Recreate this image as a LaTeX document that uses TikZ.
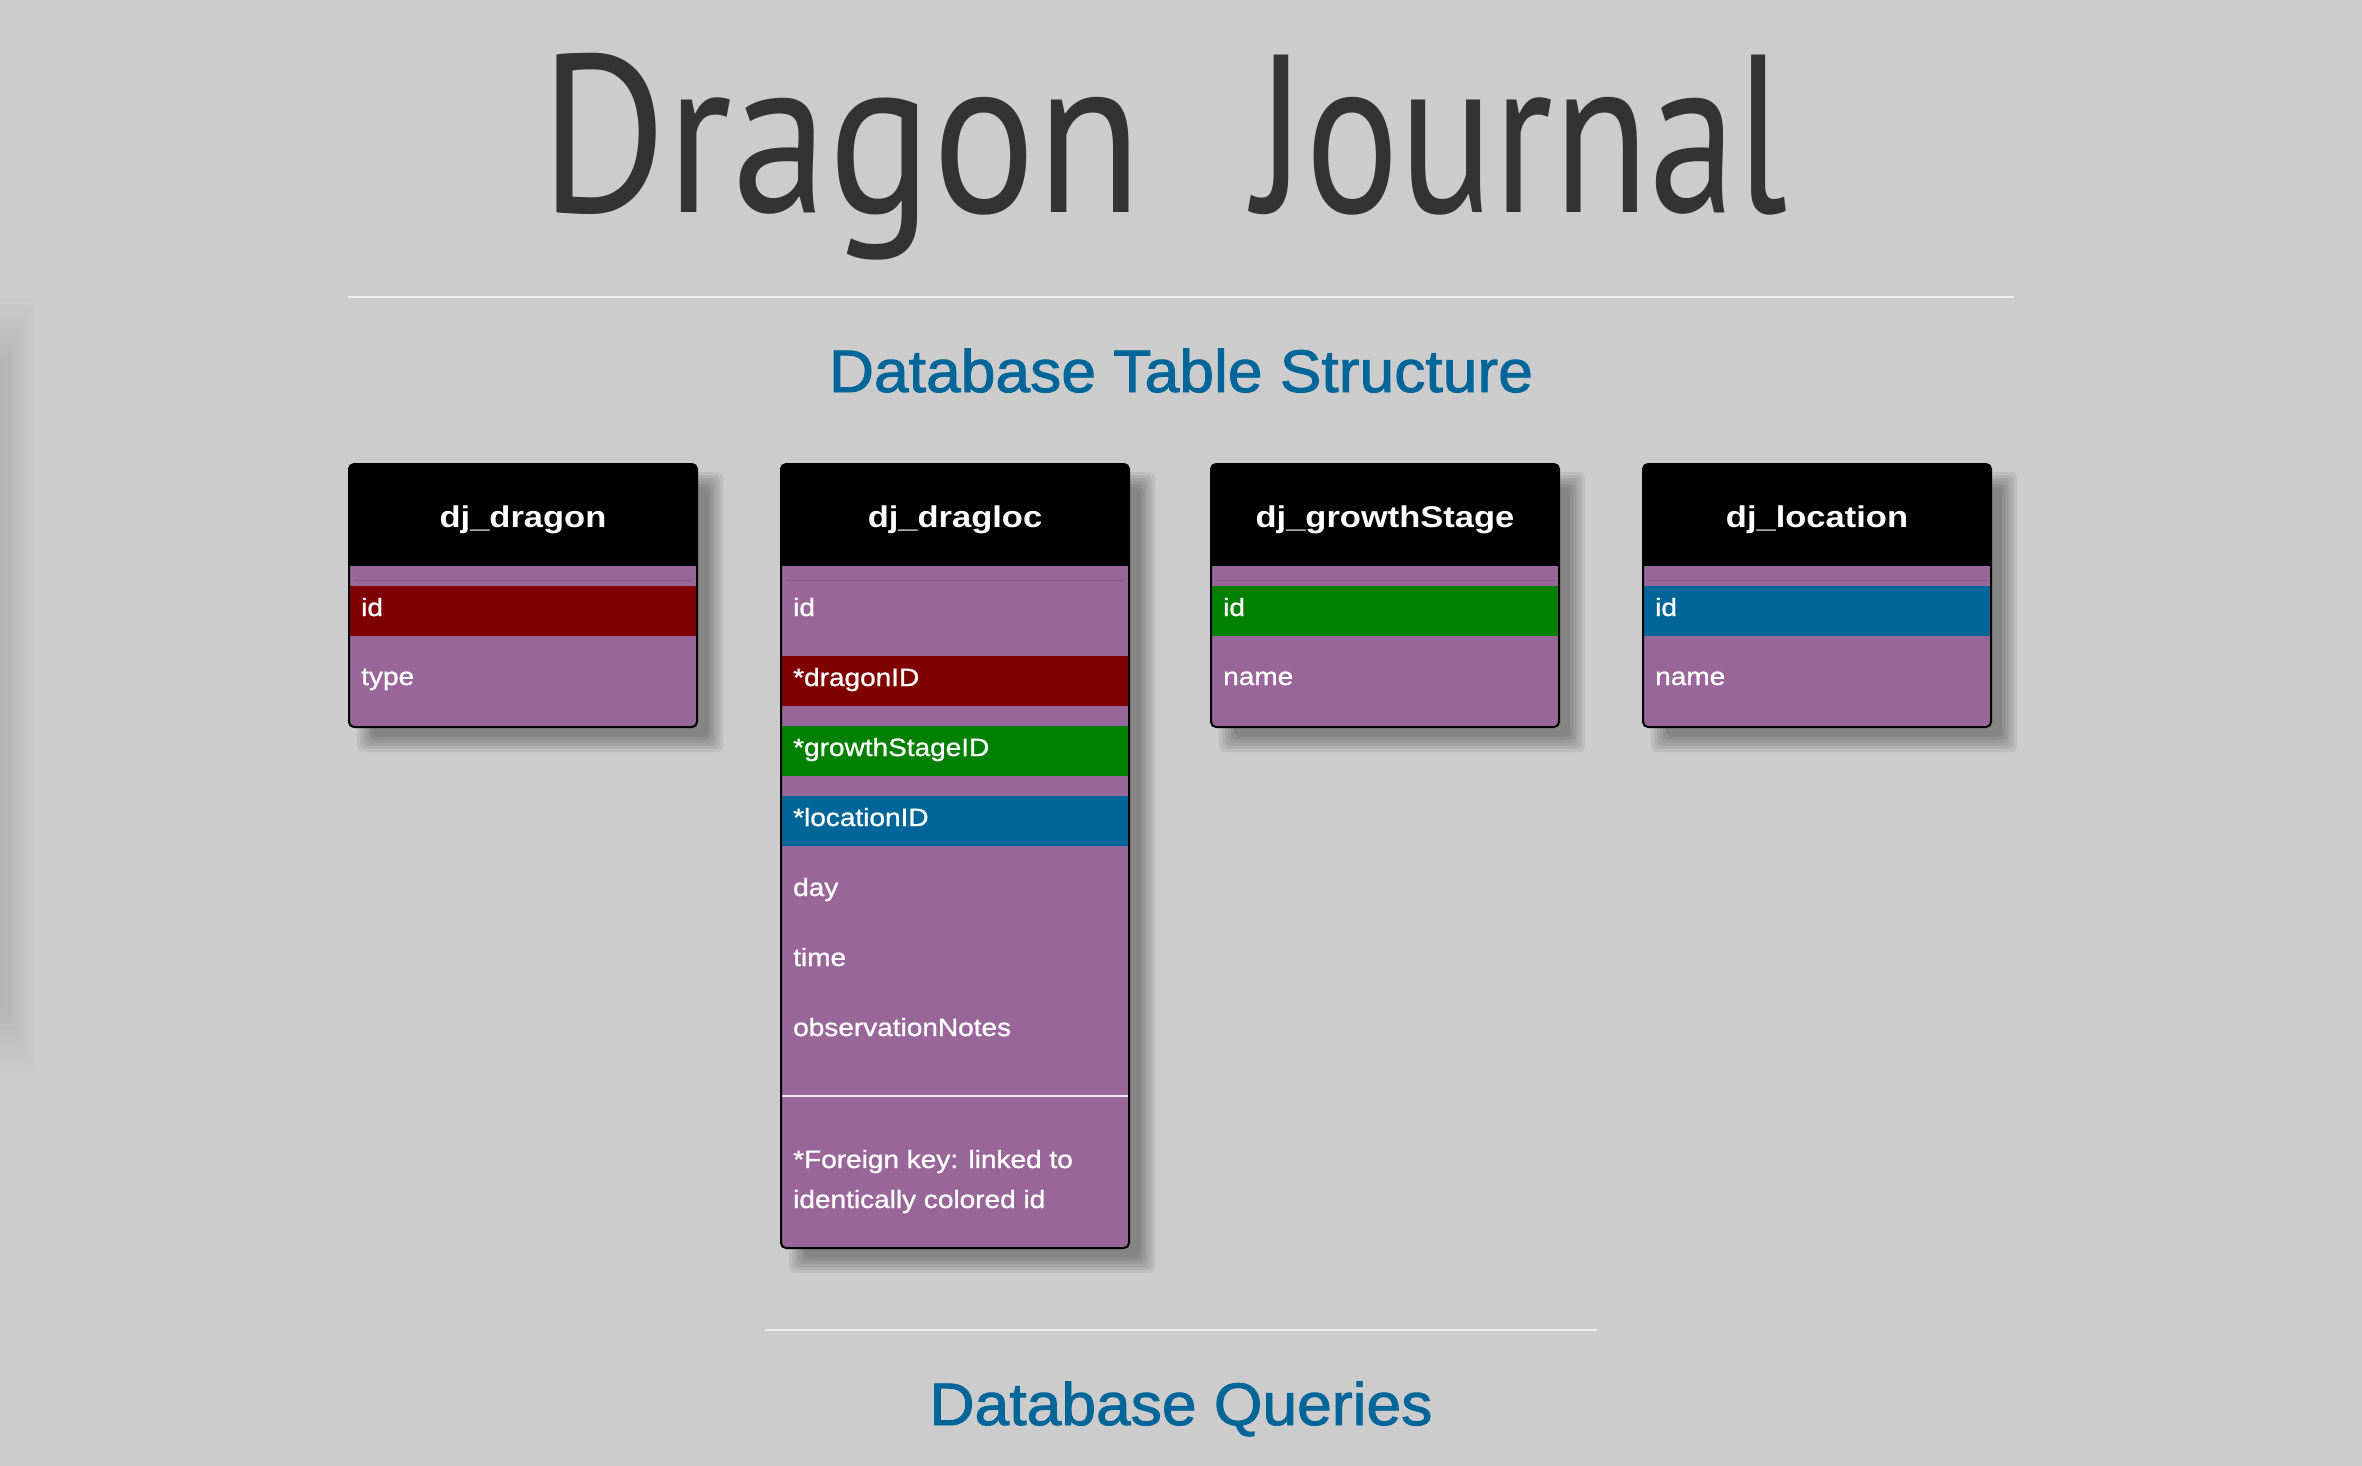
\documentclass[tikz,border=0pt]{standalone}
\usepackage{fontspec}
\setmainfont{Liberation Sans}
\newfontfamily\rowfont[FakeStretch=1.12,FakeBold=1.0]{Liberation Sans}
\newfontfamily\hdrfont[FakeStretch=1.15]{Liberation Sans}
\newfontfamily\headfont[FakeStretch=1.04,FakeBold=1.5]{Liberation Sans}
\newfontfamily\titlefontA[FakeStretch=0.86]{PT Sans}
\newfontfamily\titlefontB[FakeStretch=0.78]{PT Sans}
\definecolor{cBg}{HTML}{CCCCCC}
\definecolor{cPurple}{HTML}{996699}
\definecolor{cRed}{HTML}{800000}
\definecolor{cGreen}{HTML}{008000}
\definecolor{cBlue}{HTML}{006699}
\definecolor{cTitle}{HTML}{333333}
\definecolor{cRule}{HTML}{EEEEEE}
\tikzset{
  rowtext/.style={anchor=base west, text=white, inner sep=0pt, font=\rowfont\fontsize{25}{30}\selectfont},
  hdrtext/.style={anchor=base, text=white, inner sep=0pt, font=\hdrfont\bfseries\fontsize{30}{36}\selectfont},
  headtext/.style={anchor=base, text=cBlue, inner sep=0pt, font=\headfont\fontsize{60}{70}\selectfont},
  ruleline/.style={draw=cRule, line width=2pt},
  tabborder/.style={draw=black, line width=2pt, rounded corners=5pt},
}
\newcommand\tabframe[2]{%
  \foreach \e in {9,6,3,0,-3,-6}{
    \fill[black, fill opacity=0.065, rounded corners=6pt] ({#1+17-(\e)},{481-(\e)}) rectangle ({#1+365+(\e)},{#2+16+(\e)});
  }
  \fill[cPurple, rounded corners=5pt] (#1,464) rectangle ({#1+348},#2);
  \fill[black, rounded corners=5pt] (#1,464) rectangle ({#1+348},580);
  \fill[cPurple] (#1,566) rectangle ({#1+348},580);
}
\begin{document}
\begin{tikzpicture}[x=1pt,y=-1pt]
\useasboundingbox (0,0) rectangle (2362,1466);
\fill[cBg] (0,0) rectangle (2362,1466);
% faint left-edge shadow
\foreach \w in {3,6,...,36}{
  \fill[black, fill opacity=0.006] (0,{370-2*\w}) rectangle (\w,{1000+2*\w});
}
% title
\node[anchor=base west, inner sep=0pt, text=cTitle, font=\titlefontA\fontsize{225}{230}\selectfont] (titleA) at (540,213) {Dragon};
\node[anchor=base west, inner sep=0pt, text=cTitle, font=\titlefontB\fontsize{225}{230}\selectfont] (titleB) at (1254,213) {Journal};
\draw[ruleline] (348,297) -- (2014,297);
\node[headtext] (head1) at (1181,392) {Database Table Structure};

% table 1: dj_dragon
\tabframe{349}{727}
\fill[cRed] (349,586) rectangle (697,636);
\draw[tabborder] (349,464) rectangle (697,727);
\node[hdrtext] (t1h) at (523,527) {dj\_dragon};
\node[rowtext] (t1a) at (361,616) {id};
\node[rowtext] (t1b) at (361,685) {type};

% table 2: dj_dragloc
\tabframe{781}{1248}
\fill[cRed] (781,656) rectangle (1129,706);
\fill[cGreen] (781,726) rectangle (1129,776);
\fill[cBlue] (781,796) rectangle (1129,846);
\draw[cRule, line width=2pt] (781,1096) -- (1129,1096);
\draw[tabborder] (781,464) rectangle (1129,1248);
\node[hdrtext] (t2h) at (955,527) {dj\_dragloc};
\node[rowtext] (t2a) at (793,616) {id};
\node[rowtext] (t2b) at (793,686) {*dragonID};
\node[rowtext] (t2c) at (793,756) {*growthStageID};
\node[rowtext] (t2d) at (793,826) {*locationID};
\node[rowtext] (t2e) at (793,896) {day};
\node[rowtext] (t2f) at (793,966) {time};
\node[rowtext] (t2g) at (793,1036) {observationNotes};
\node[rowtext] (t2n1) at (793,1168) {*Foreign key: linked to};
\node[rowtext] (t2n2) at (793,1208) {identically colored id};

% table 3: dj_growthStage
\tabframe{1211}{727}
\fill[cGreen] (1211,586) rectangle (1559,636);
\draw[tabborder] (1211,464) rectangle (1559,727);
\node[hdrtext] (t3h) at (1385,527) {dj\_growthStage};
\node[rowtext] (t3a) at (1223,616) {id};
\node[rowtext] (t3b) at (1223,685) {name};

% table 4: dj_location
\tabframe{1643}{727}
\fill[cBlue] (1643,586) rectangle (1991,636);
\draw[tabborder] (1643,464) rectangle (1991,727);
\node[hdrtext] (t4h) at (1817,527) {dj\_location};
\node[rowtext] (t4a) at (1655,616) {id};
\node[rowtext] (t4b) at (1655,685) {name};

\draw[ruleline] (765,1330) -- (1597,1330);
\node[headtext] (head2) at (1181,1425) {Database Queries};
\end{tikzpicture}
\end{document}
